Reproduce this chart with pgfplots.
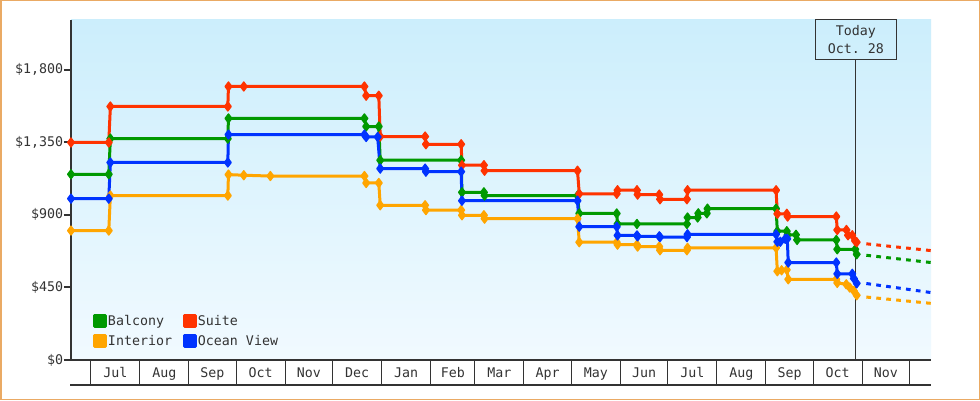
\documentclass[border=0pt]{standalone}
\usepackage{fontspec}
\setmonofont{DejaVu Sans Mono}
\usepackage{pgfplots}
\usepackage{pgfplotstable}
\pgfplotsset{compat=1.18}
\definecolor{balc}{RGB}{0,153,0}
\definecolor{suite}{RGB}{255,51,0}
\definecolor{inter}{RGB}{255,165,0}
\definecolor{ocean}{RGB}{0,51,255}
\definecolor{axgray}{RGB}{51,51,51}
\definecolor{bgtop}{RGB}{204,238,252}
\definecolor{bgbot}{RGB}{241,250,255}
\definecolor{framecol}{RGB}{234,170,100}
\newcommand\cf{\ttfamily\fontsize{13.3}{18}\selectfont}

\pgfplotstableread{
d v
-12.5 1151
11.4 1151
12.4 1372
86.7 1372
87.1 1497
173.1 1497
174.2 1447
182.2 1447
183.1 1238
234.3 1238
234.8 1039
248.7 1039
249.1 1019
307.9 1019
309.0 908
332.7 908
333.2 843
345.5 843
377.1 843
377.5 883
383.9 883
384.3 909
389.7 909
390.1 938
433.5 938
434.3 798
440.3 798
440.8 776
446.1 776
446.8 744
471.6 744
472.2 686
483.6 686
484.5 655
}\balcony

\pgfplotstableread{
d v
-12.5 1348
11.4 1348
12.4 1571
86.7 1571
87.1 1695
96.8 1695
173.1 1695
174.2 1638
182.2 1638
183.1 1385
211.5 1385
212.0 1337
234.3 1337
234.8 1207
248.7 1207
249.1 1173
307.9 1173
309.0 1030
332.7 1030
333.2 1052
345.5 1052
345.9 1025
359.6 1025
360.1 996
377.1 996
377.5 1052
433.5 1052
434.3 906
440.3 906
440.8 889
471.6 889
472.2 806
478.0 806
479.0 773
481.7 773
483.5 738
484.5 730
}\suite

\pgfplotstableread{
d v
-12.5 802
11.4 802
12.4 1019
86.7 1019
87.1 1149
96.8 1145
113.6 1140
173.1 1140
174.2 1097
182.2 1097
183.1 959
211.5 959
212.0 929
234.3 929
234.8 897
248.7 897
249.1 876
307.9 876
309.0 730
332.7 730
333.2 715
345.5 715
345.9 703
359.6 703
360.1 680
377.1 680
377.5 695
433.5 695
434.3 550
437.0 556
440.3 559
441.2 500
471.6 500
472.2 478
477.9 469
480.1 449
482.7 428
484.5 401
}\interior

\pgfplotstableread{
d v
-12.5 1000
11.4 1000
12.4 1224
86.7 1224
87.1 1397
173.1 1397
174.2 1382
181.5 1382
183.1 1186
211.5 1186
212.0 1167
234.3 1167
234.8 987
307.9 987
309.0 826
332.7 826
333.2 772
345.5 772
345.9 766
359.6 766
360.1 762
377.1 762
377.5 779
433.5 779
434.3 733
436.2 733
439.3 751
440.6 751
441.2 604
471.6 604
472.2 534
481.7 534
482.7 505
484.5 475
}\ocean

\begin{document}
\begin{tikzpicture}
\useasboundingbox (0,0) rectangle (980pt,400pt);
\fill[white] (0,0) rectangle (980pt,400pt);
\begin{axis}[
  at={(71pt,40pt)}, anchor=south west,
  scale only axis, width=860pt, height=340pt,
  xmin=-12.5, xmax=531.5, ymin=0, ymax=2107,
  clip=false,
  axis x line*=bottom, axis y line*=left,
  axis line style={-, draw=axgray},
  x axis line style={line width=1.3pt},
  y axis line style={line width=2pt},
  axis background/.style={top color=bgtop, bottom color=bgbot},
  xtick={0,31,62,92,123,153,184,215,243,274,304,335,365,396,427,457,488,518},
  xticklabels={Jul,Aug,Sep,Oct,Nov,Dec,Jan,Feb,Mar,Apr,May,Jun,Jul,Aug,Sep,Oct,Nov},
  x tick label as interval,
  ytick={0,450,900,1350,1800},
  yticklabels={\$0,\$450,\$900,{\$1,350},{\$1,800}},
  tick align=outside,
  xtick style={/pgfplots/major tick length=25pt, line width=1pt, draw=axgray},
  ytick style={/pgfplots/major tick length=7pt, line width=2pt, draw=axgray},
  tick label style={font=\cf, text=axgray},
  legend columns=2,
  legend cell align=left,
  legend image code/.code={\fill[#1] (0pt,-6pt) rectangle (10.7pt,4.7pt);},
  legend style={at={(0,0)}, anchor=south west, xshift=21.7pt, yshift=12.3pt,
    draw=none, fill=none, inner sep=0pt, row sep=6.3pt, font=\cf, text=axgray,
    nodes={inner sep=0pt, text height=10.7pt, text depth=0pt},
    /tikz/every odd column/.append style={column sep=1.4pt},
    /tikz/every even column/.append style={column sep=10.8pt}},
  every axis plot/.append style={line width=3pt, mark=diamond*, mark size=4.5pt,
    mark options={solid, line width=1.3pt, line join=round}, line join=round},
]
\addplot[color=balc] table[x=d,y=v]{\balcony};
\addlegendentry{Balcony}
\addplot[color=suite] table[x=d,y=v]{\suite};
\addlegendentry{Suite}
\addplot[color=inter] table[x=d,y=v]{\interior};
\addlegendentry{Interior}
\addplot[color=ocean] table[x=d,y=v]{\ocean};
\addlegendentry{Ocean View}

\addplot[color=suite, no marks, forget plot, dash pattern=on 4.7pt off 5.3pt, line cap=butt] coordinates {(490.6,720) (531.5,678)};
\addplot[color=balc, no marks, forget plot, dash pattern=on 4.7pt off 5.3pt, line cap=butt] coordinates {(490.6,649) (531.5,604)};
\addplot[color=ocean, no marks, forget plot, dash pattern=on 4.7pt off 5.3pt, line cap=butt] coordinates {(490.6,474) (531.5,418)};
\addplot[color=inter, no marks, forget plot, dash pattern=on 4.7pt off 5.3pt, line cap=butt] coordinates {(490.6,390) (531.5,351)};

\draw[axgray, line width=1pt] (axis cs:484,0) -- (axis cs:484,1857);
\node[draw=axgray, line width=1pt, minimum width=80.4pt, minimum height=40pt,
  anchor=south, align=center, font=\cf, text=axgray, inner sep=0pt]
  at (axis cs:484,1857) {Today\\Oct. 28};
\draw[axgray, line width=1.3pt] (rel axis cs:0,0) ++(-1pt,-25pt) -- ++(861pt,0pt);
\end{axis}
\draw[framecol, line width=1.5pt] (0.75pt,0.75pt) rectangle (979.25pt,399.25pt);
\end{tikzpicture}
\end{document}
